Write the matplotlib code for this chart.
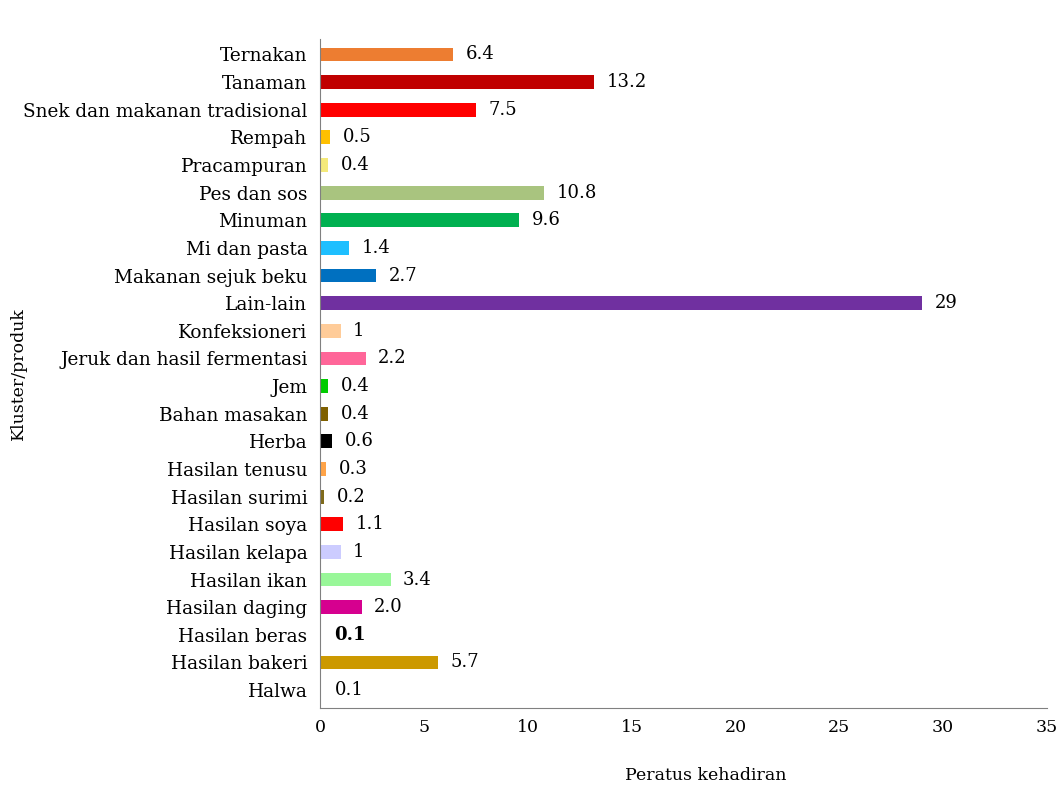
import matplotlib.pyplot as plt

# Categories listed bottom to top
kategori = ["Halwa", "Hasilan bakeri", "Hasilan beras", "Hasilan daging",
            "Hasilan ikan", "Hasilan kelapa", "Hasilan soya", "Hasilan surimi",
            "Hasilan tenusu", "Herba", "Bahan masakan", "Jem",
            "Jeruk dan hasil fermentasi", "Konfeksioneri", "Lain-lain",
            "Makanan sejuk beku", "Mi dan pasta", "Minuman", "Pes dan sos",
            "Pracampuran", "Rempah", "Snek dan makanan tradisional",
            "Tanaman", "Ternakan"]
peratus = [0.1, 5.7, 0.1, 2.0, 3.4, 1.0, 1.1, 0.2, 0.3, 0.6, 0.4, 0.4,
           2.2, 1.0, 29, 2.7, 1.4, 9.6, 10.8, 0.4, 0.5, 7.5, 13.2, 6.4]
label = ["0.1", "5.7", "0.1", "2.0", "3.4", "1", "1.1", "0.2", "0.3", "0.6",
         "0.4", "0.4", "2.2", "1", "29", "2.7", "1.4", "9.6", "10.8", "0.4",
         "0.5", "7.5", "13.2", "6.4"]
warna = ["#FFFFFF", "#CC9900", "#FFFFFF", "#D6008F", "#99F799", "#CCCCFF",
         "#FF0000", "#7F6A1A", "#FFA347", "#000000", "#7F6000", "#00CC00",
         "#FF6699", "#FFCC99", "#7030A0", "#0070C0", "#1EBFFF", "#00B050",
         "#A9C47F", "#F4E97A", "#FFC000", "#FF0000", "#C00000", "#ED7D31"]

plt.rcParams['font.family'] = ['DejaVu Serif']

fig = plt.figure(figsize=(10.63, 7.85), dpi=100)
ax = fig.add_axes([0.301, 0.098, 0.684, 0.852])

y = range(len(kategori))
ax.barh(y, peratus, height=0.5, color=warna)

for i, (v, t) in enumerate(zip(peratus, label)):
    tebal = "bold" if kategori[i] == "Hasilan beras" else "normal"
    ax.annotate(t, (v, i), xytext=(9, 0), textcoords="offset points",
                va="center", ha="left", fontsize=13, fontweight=tebal)

ax.set_yticks(list(y))
ax.set_yticklabels(kategori, fontsize=13.3)
ax.set_xlim(0, 35)
ax.set_ylim(-0.65, 23.55)
ax.set_xticks(range(0, 36, 5))
ax.tick_params(axis="x", length=0, labelsize=12.5, pad=8)
ax.tick_params(axis="y", length=0, pad=9)

for s in ["top", "right"]:
    ax.spines[s].set_visible(False)
ax.spines["left"].set_color("#808080")
ax.spines["bottom"].set_color("#808080")

ax.set_xlabel("Peratus kehadiran", fontsize=12.5)
ax.set_ylabel("Kluster/produk", fontsize=12.5)
ax.xaxis.set_label_coords(0.530, -0.088)
ax.yaxis.set_label_coords(-0.403, 0.5)

fig.savefig("out.png", dpi=100)
